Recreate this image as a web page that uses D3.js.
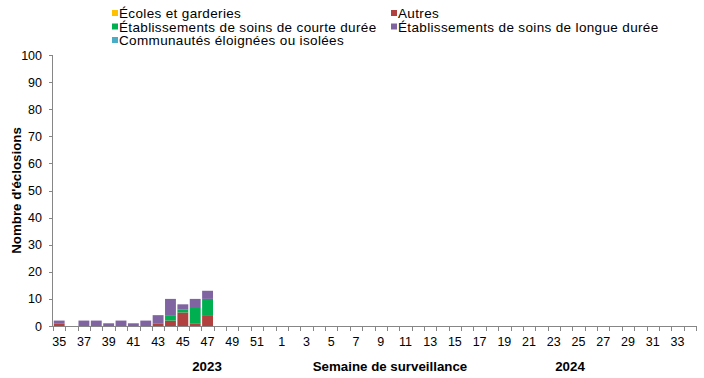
<!DOCTYPE html>
<html lang="fr">
<head>
<meta charset="utf-8">
<title>Éclosions par semaine</title>
<script src="https://cdn.jsdelivr.net/npm/d3@7"></script>
<style>
  body { margin: 0; background: #fff; }
  svg text { font-family: "Liberation Sans", Arial, sans-serif; fill: #000; }
  .axis path, .axis line { fill: none; stroke: #868686; shape-rendering: crispEdges; }
  .axis text { font-size: 12.5px; }
</style>
</head>
<body>
<script>
// weeks: 35..52 of 2023 then 1..34 of 2024
var weeks = d3.range(35, 53).concat(d3.range(1, 35));
var weekKeys = weeks.map(function(w, i) { return (i < 18 ? "2023-" : "2024-") + w; });

var seriesNames = ["Écoles et garderies", "Autres", "Établissements de soins de courte durée",
                   "Établissements de soins de longue durée", "Communautés éloignées ou isolées"];
var seriesColors = ["#FFC000", "#B0413E", "#00B050", "#8064A2", "#4BACC6"];

// values for weeks 35..47 (rest are 0)
var ecoles   = [0, 0, 0, 0, 0, 0, 0, 0, 0, 0, 0, 0, 0];
var autres   = [1, 0, 0, 0, 0, 0, 0, 0, 1, 2, 5, 1, 4];
var courte   = [0, 0, 0, 0, 0, 0, 0, 0, 0, 2, 1, 6, 6];
var longue   = [1, 0, 2, 2, 1, 2, 1, 2, 3, 6, 2, 3, 3];
var commun   = [0, 0, 0, 0, 0, 0, 0, 0, 0, 0, 0, 0, 0];
var yTicks = d3.range(0, 101, 10);

var width = 704, height = 378;
var margin = {top: 55, left: 53, right: 8, bottom: 52};

var table = weekKeys.map(function(k, i) {
  return {
    key: k,
    s0: ecoles[i] || 0,
    s1: autres[i] || 0,
    s2: courte[i] || 0,
    s3: longue[i] || 0,
    s4: commun[i] || 0
  };
});

var svg = d3.select("body").append("svg")
  .attr("width", width).attr("height", height);

var x = d3.scaleBand()
  .domain(weekKeys)
  .range([margin.left, width - margin.right])
  .paddingInner(0.12).paddingOuter(0.06);

var y = d3.scaleLinear()
  .domain([0, 100])
  .range([height - margin.bottom, margin.top]);

var stack = d3.stack().keys(["s1", "s2", "s3", "s0", "s4"]);
var stacked = stack(table);
var colorOf = {s0: seriesColors[0], s1: seriesColors[1], s2: seriesColors[2], s3: seriesColors[3], s4: seriesColors[4]};

svg.append("g").selectAll("g")
  .data(stacked)
  .enter().append("g")
  .attr("fill", function(d) { return colorOf[d.key]; })
  .selectAll("rect")
  .data(function(d) { return d; })
  .enter().append("rect")
  .attr("x", function(d) { return x(d.data.key); })
  .attr("width", x.bandwidth())
  .attr("y", function(d) { return y(d[1]); })
  .attr("height", function(d) { return y(d[0]) - y(d[1]); });

// y axis
var yAxis = d3.axisLeft(y).tickValues(yTicks).tickSize(4).tickPadding(7);
svg.append("g")
  .attr("class", "axis")
  .attr("transform", "translate(" + margin.left + ",0)")
  .call(yAxis)
  .call(function(g) { g.select(".domain").attr("d", "M-0.5," + y(100) + "V" + y(0)); });

// x axis: line, ticks between categories, labels every other week
var xg = svg.append("g").attr("class", "axis");
xg.append("line")
  .attr("x1", margin.left).attr("x2", width - margin.right)
  .attr("y1", y(0) + 0.5).attr("y2", y(0) + 0.5);
var step = x.step();
xg.selectAll("line.tk")
  .data(d3.range(weekKeys.length + 1))
  .enter().append("line")
  .attr("class", "tk")
  .attr("x1", function(i) { return Math.round(margin.left + i * step) + 0.5; })
  .attr("x2", function(i) { return Math.round(margin.left + i * step) + 0.5; })
  .attr("y1", y(0)).attr("y2", y(0) + 5);
xg.selectAll("text")
  .data(weekKeys.filter(function(k, i) { return i % 2 === 0; }))
  .enter().append("text")
  .attr("x", function(k) { return x(k) + x.bandwidth() / 2; })
  .attr("y", y(0) + 20)
  .attr("text-anchor", "middle")
  .text(function(k) { return k.split("-")[1]; });

// axis titles
svg.append("text")
  .attr("x", 207).attr("y", 371)
  .attr("text-anchor", "middle")
  .style("font-size", "13.3px").style("font-weight", "bold")
  .text("2023");
svg.append("text")
  .attr("x", 390).attr("y", 371)
  .attr("text-anchor", "middle")
  .style("font-size", "13.3px").style("font-weight", "bold")
  .text("Semaine de surveillance");
svg.append("text")
  .attr("x", 570).attr("y", 371)
  .attr("text-anchor", "middle")
  .style("font-size", "13.3px").style("font-weight", "bold")
  .text("2024");
svg.append("text")
  .attr("transform", "translate(21," + ((y(0) + y(100)) / 2) + ")rotate(-90)")
  .attr("text-anchor", "middle")
  .style("font-size", "13.3px").style("font-weight", "bold")
  .text("Nombre d'éclosions");

// legend
var legendPos = [[112, 18], [391, 18], [112, 31.5], [391, 31.5], [112, 45]];
var legend = svg.append("g").selectAll("g")
  .data(seriesNames)
  .enter().append("g")
  .attr("transform", function(d, i) { return "translate(" + legendPos[i][0] + "," + legendPos[i][1] + ")"; });
legend.append("rect")
  .attr("x", 0).attr("y", -8).attr("width", 6).attr("height", 6)
  .attr("fill", function(d, i) { return seriesColors[i]; });
legend.append("text")
  .attr("x", 7).attr("y", 0)
  .style("font-size", "13.5px")
  .style("letter-spacing", "0.35px")
  .text(function(d) { return d; });
</script>
</body>
</html>
